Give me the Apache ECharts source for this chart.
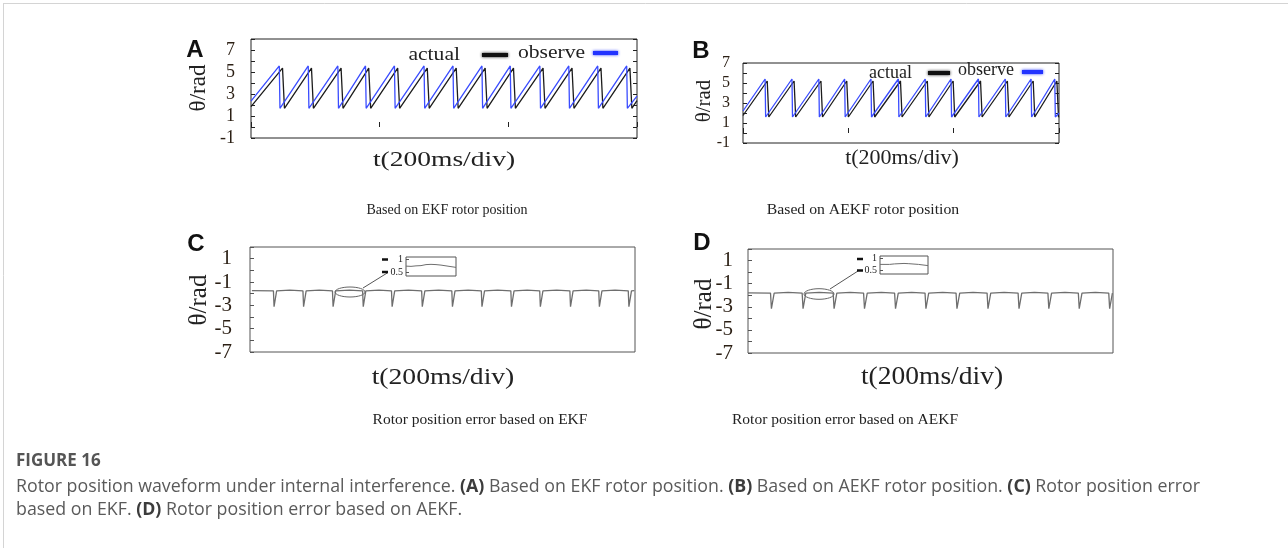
<!DOCTYPE html>
<html>
<head>
<meta charset="utf-8">
<script src="https://cdn.jsdelivr.net/npm/echarts@6/dist/echarts.min.js"></script>
<style>
html, body { margin: 0; padding: 0; background: #fff; }
#chart { width: 1288px; height: 548px; }
</style>
</head>
<body>
<div id="chart"></div>
<script>
// 数据：拐点 [t(ms), θ(rad)]
// (A) EKF 转子位置
const aActual = [[0,1.85],[49,5.35],[52,1.7],[94,5.35],[97,1.7],[140,5.35],[143,1.7],[183,5.35],[186,1.7],
  [228,5.35],[231,1.7],[274,5.35],[277,1.7],[319,5.35],[322,1.7],[364,5.35],[367,1.7],[408,5.35],[411,1.7],
  [454,5.35],[457,1.7],[499,5.35],[502,1.7],[544,5.35],[547,1.7],[589,5.35],[592,1.7],[600,2.4]];
const aObserve = [[0,2.35],[44,5.55],[45,1.7],[48,1.7],[89,5.55],[90,1.7],[93,1.7],[135,5.55],[136,1.7],[139,1.7],
  [178,5.55],[179,1.7],[182,1.7],[223,5.55],[224,1.7],[227,1.7],[269,5.55],[270,1.7],[273,1.7],
  [314,5.55],[315,1.7],[318,1.7],[359,5.55],[360,1.7],[363,1.7],[403,5.55],[404,1.7],[407,1.7],
  [449,5.55],[450,1.7],[453,1.7],[494,5.55],[495,1.7],[498,1.7],[539,5.55],[540,1.7],[543,1.7],
  [584,5.55],[585,1.7],[588,1.7],[600,2.8]];
// (B) AEKF 转子位置
const bActual = [[0,1.75],[46,5.2],[49,1.6],[97,5.2],[100,1.6],[148,5.2],[151,1.6],[197,5.2],[200,1.6],
  [247,5.2],[250,1.6],[299,5.2],[302,1.6],[350,5.2],[353,1.6],[399,5.2],[402,1.6],[451,5.2],[454,1.6],
  [502,5.2],[505,1.6],[551,5.2],[554,1.6],[596,5.2],[599,1.6],[600,1.65]];
const bObserve = [[0,2.2],[42,5.4],[43,1.6],[46,1.6],[93,5.4],[94,1.6],[97,1.6],[144,5.4],[145,1.6],[148,1.6],
  [193,5.4],[194,1.6],[197,1.6],[243,5.4],[244,1.6],[247,1.6],[295,5.4],[296,1.6],[299,1.6],
  [346,5.4],[347,1.6],[350,1.6],[395,5.4],[396,1.6],[399,1.6],[447,5.4],[448,1.6],[451,1.6],
  [498,5.4],[499,1.6],[502,1.6],[547,5.4],[548,1.6],[551,1.6],[592,5.4],[593,1.6],[596,1.6],[600,2.0]];
// (C) EKF 位置误差
const cError = [[3,-1.74],
  [36.5,-1.76],[37.5,-3.12],[40.5,-3.12],[41.5,-1.76],[62,-1.7],
  [82.5,-1.76],[83.5,-3.12],[86.5,-3.12],[87.5,-1.76],[108,-1.7],
  [128.5,-1.76],[129.5,-3.12],[132.5,-3.12],[133.5,-1.76],[155,-1.7],
  [175.5,-1.76],[176.5,-3.12],[179.5,-3.12],[180.5,-1.76],[201,-1.7],
  [220.5,-1.76],[221.5,-3.12],[224.5,-3.12],[225.5,-1.76],[247,-1.7],
  [267.5,-1.76],[268.5,-3.12],[271.5,-3.12],[272.5,-1.76],[294,-1.7],
  [314.5,-1.76],[315.5,-3.12],[318.5,-3.12],[319.5,-1.76],[340,-1.7],
  [360.5,-1.76],[361.5,-3.12],[364.5,-3.12],[365.5,-1.76],[386,-1.7],
  [406.5,-1.76],[407.5,-3.12],[410.5,-3.12],[411.5,-1.76],[432,-1.7],
  [451.5,-1.76],[452.5,-3.12],[455.5,-3.12],[456.5,-1.76],[478,-1.7],
  [498.5,-1.76],[499.5,-3.12],[502.5,-3.12],[503.5,-1.76],[524,-1.7],
  [543.5,-1.76],[544.5,-3.12],[547.5,-3.12],[548.5,-1.76],[569,-1.7],
  [589.5,-1.76],[590.5,-3.12],[593.5,-3.12],[594.5,-1.76],[599,-1.74]];
// (D) AEKF 位置误差
const dError = [[0,-1.8],
  [37,-1.82],[38.5,-3.17],[41.5,-3.17],[43,-1.82],[66,-1.76],
  [89,-1.82],[90.5,-3.17],[93.5,-3.17],[95,-1.82],[117,-1.76],
  [140,-1.82],[141.5,-3.17],[144.5,-3.17],[146,-1.82],[168,-1.76],
  [190,-1.82],[191.5,-3.17],[194.5,-3.17],[196,-1.82],[219,-1.76],
  [241,-1.82],[242.5,-3.17],[245.5,-3.17],[247,-1.82],[269,-1.76],
  [291,-1.82],[292.5,-3.17],[295.5,-3.17],[297,-1.82],[320,-1.76],
  [342,-1.82],[343.5,-3.17],[346.5,-3.17],[348,-1.82],[370,-1.76],
  [393,-1.82],[394.5,-3.17],[397.5,-3.17],[399,-1.82],[421,-1.76],
  [444,-1.82],[445.5,-3.17],[448.5,-3.17],[450,-1.82],[471,-1.76],
  [493,-1.82],[494.5,-3.17],[497.5,-3.17],[499,-1.82],[521,-1.76],
  [543,-1.82],[544.5,-3.17],[547.5,-3.17],[549,-1.82],[571,-1.76],
  [593,-1.82],[594.5,-3.17],[597.5,-3.17],[599,-1.82],[600,-1.8]];
// 局部放大小图
const cZoom = [[0,0.74],[1,0.73],[2,0.75],[3,0.76],[4,0.8],[5,0.81],[6,0.8],[7,0.78],[8,0.75],[9,0.72],[10,0.69]];
const dZoom = [[0,0.75],[2,0.75],[3,0.77],[5,0.79],[6,0.78],[8,0.75],[10,0.7]];
const zoomTicks = [0.5, 1];

const serif = "'Liberation Serif', 'Times New Roman', serif";
const sans = "'Liberation Sans', Arial, sans-serif";
const openSans = "'Open Sans', 'Noto Sans', sans-serif";
const labelColor = '#2b1f14';

function oddLabel(v) {
  return Math.abs(v % 2) === 1 ? String(v) : '';
}

function mainY(grid, min, max, size, margin, color, right) {
  return {
    gridIndex: grid, type: 'value', min: min, max: max, interval: 1,
    position: right ? 'right' : 'left',
    axisLine: { show: false },
    axisTick: { show: true, inside: true, length: 4, lineStyle: { color: color } },
    axisLabel: right ? { show: false } : {
      formatter: oddLabel, fontFamily: serif, fontSize: size, color: labelColor, margin: margin
    },
    splitLine: { show: false }
  };
}

function mainX(grid, ticks) {
  return {
    gridIndex: grid, type: 'value', min: 0, max: 600, interval: 200,
    axisLine: { show: false },
    axisTick: { show: ticks, inside: true, length: 5, lineStyle: { color: '#222' } },
    axisLabel: { show: false },
    splitLine: { show: false }
  };
}

function zoomY(grid) {
  return {
    gridIndex: grid, type: 'value', min: 0.35, max: 1.1,
    axisLine: { show: false },
    axisTick: { inside: true, length: 3, customValues: zoomTicks, lineStyle: { color: '#555' } },
    axisLabel: { customValues: zoomTicks, fontFamily: serif, fontSize: 10, color: '#222', margin: 3 },
    splitLine: { show: false }
  };
}

function line(xi, yi, data, color, w) {
  return {
    type: 'line', xAxisIndex: xi, yAxisIndex: yi, data: data,
    symbol: 'none', showSymbol: false, silent: true,
    lineStyle: { color: color, width: w }, itemStyle: { color: color }
  };
}

function text(x, y, str, font, opts) {
  opts = opts || {};
  return {
    type: 'text', x: x, y: y, rotation: opts.rotation || 0, scaleX: opts.scaleX || 1,
    silent: true,
    style: {
      text: str, font: font, fill: opts.fill || '#222',
      align: opts.align || 'center', verticalAlign: 'middle', rich: opts.rich
    }
  };
}

function seg(x1, y1, x2, y2, color, w, blur) {
  return {
    type: 'line', silent: true,
    shape: { x1: x1, y1: y1, x2: x2, y2: y2 },
    style: { stroke: color, lineWidth: w, shadowBlur: blur || 0, shadowColor: color }
  };
}

function ellipse(cx, cy, rx, ry) {
  return {
    type: 'ellipse', silent: true,
    shape: { cx: cx, cy: cy, rx: rx, ry: ry },
    style: { fill: 'none', stroke: '#666', lineWidth: 1 }
  };
}

const richBold = { b: { fontFamily: openSans, fontSize: 17.8, fontWeight: 'bold', fill: '#3c3c3c' } };

const chart = echarts.init(document.getElementById('chart'));
chart.setOption({
  animation: false,
  backgroundColor: '#fff',
  grid: [
    { left: 251, top: 39, width: 386, height: 99, show: true, borderColor: '#222', borderWidth: 1 },
    { left: 743, top: 63, width: 316, height: 80, show: true, borderColor: '#222', borderWidth: 1 },
    { left: 250, top: 247, width: 385, height: 105, show: true, borderColor: '#555', borderWidth: 1 },
    { left: 748, top: 249, width: 365, height: 104, show: true, borderColor: '#555', borderWidth: 1 },
    { left: 406, top: 257, width: 50, height: 19, show: true, borderColor: '#555', borderWidth: 1 },
    { left: 880, top: 256, width: 48, height: 18, show: true, borderColor: '#555', borderWidth: 1 }
  ],
  xAxis: [
    mainX(0, true), mainX(1, true), mainX(2, false), mainX(3, false),
    { gridIndex: 4, type: 'value', min: 0, max: 10, show: false },
    { gridIndex: 5, type: 'value', min: 0, max: 10, show: false }
  ],
  yAxis: [
    mainY(0, -1, 8, 18, 16, '#222', false),
    mainY(0, -1, 8, 18, 16, '#222', true),
    mainY(1, -1, 7, 16, 13, '#222', false),
    mainY(1, -1, 7, 16, 13, '#222', true),
    mainY(2, -7, 2, 21, 18, '#555', false),
    mainY(3, -7, 2, 21, 15, '#555', false),
    zoomY(4),
    zoomY(5)
  ],
  series: [
    line(0, 0, aActual, '#1c1c1c', 1.3),
    line(0, 0, aObserve, '#3a4cff', 1.3),
    line(1, 2, bActual, '#1c1c1c', 1.3),
    line(1, 2, bObserve, '#3a4cff', 1.3),
    line(2, 4, cError, '#6e6e6e', 1.3),
    line(3, 5, dError, '#6e6e6e', 1.3),
    line(4, 6, cZoom, '#6e6e6e', 1),
    line(5, 7, dZoom, '#6e6e6e', 1)
  ],
  graphic: [
    // 页面边框
    seg(3, 3.5, 1288, 3.5, '#d4d4d4', 1),
    seg(3.5, 3, 3.5, 548, '#d4d4d4', 1),
    // 子图字母
    text(195, 50, 'A', 'bold 24px ' + sans, { fill: '#111' }),
    text(701, 51, 'B', 'bold 24px ' + sans, { fill: '#111' }),
    text(196, 244, 'C', 'bold 24px ' + sans, { fill: '#111' }),
    text(702, 243, 'D', 'bold 24px ' + sans, { fill: '#111' }),
    // 纵轴名
    text(199, 88, 'θ/rad', '23px ' + serif, { rotation: Math.PI / 2 }),
    text(704, 101, 'θ/rad', '21px ' + serif, { rotation: Math.PI / 2 }),
    text(199, 300, 'θ/rad', '25px ' + serif, { rotation: Math.PI / 2 }),
    text(704, 304, 'θ/rad', '25px ' + serif, { rotation: Math.PI / 2 }),
    // 横轴名
    text(444, 160, 't(200ms/div)', '22px ' + serif, { scaleX: 1.25 }),
    text(902, 158, 't(200ms/div)', '22px ' + serif),
    text(443, 378, 't(200ms/div)', '24px ' + serif, { scaleX: 1.15 }),
    text(932, 377, 't(200ms/div)', '25px ' + serif, { scaleX: 1.1 }),
    // 图例
    text(460, 55, 'actual', '18px ' + serif, { align: 'right', scaleX: 1.2 }),
    seg(482, 55, 508, 55, '#111', 4, 3),
    text(518, 53, 'observe', '18px ' + serif, { align: 'left', scaleX: 1.2 }),
    seg(593, 53, 618, 53, '#2233ff', 4, 3),
    text(912, 73, 'actual', '18px ' + serif, { align: 'right' }),
    seg(928, 73, 950, 73, '#111', 4, 3),
    text(958, 70, 'observe', '18px ' + serif, { align: 'left' }),
    seg(1022, 72, 1043, 72, '#2233ff', 4, 3),
    // 局部放大标注
    ellipse(350, 292, 15, 5),
    seg(363, 288, 388, 272.5, '#555', 1),
    seg(382, 259.5, 388, 259.5, '#111', 2.5),
    seg(382, 272, 388, 272, '#111', 2.5),
    ellipse(819, 294, 15, 5.3),
    seg(830, 289, 858, 271, '#555', 1),
    seg(857, 259, 863, 259, '#111', 2.5),
    seg(857, 270.5, 863, 270.5, '#111', 2.5),
    // 子图说明
    text(447, 210, 'Based on EKF rotor position', '14px ' + serif),
    text(863, 210, 'Based on AEKF rotor position', '15px ' + serif, { scaleX: 1.05 }),
    text(480, 420, 'Rotor position error based on EKF', '15.5px ' + serif),
    text(845, 420, 'Rotor position error based on AEKF', '15.5px ' + serif),
    // 图注
    text(16, 461, 'FIGURE 16', 'bold 17px ' + openSans, { align: 'left', fill: '#555' }),
    text(16, 487, 'Rotor position waveform under internal interference. {b|(A)} Based on EKF rotor position. {b|(B)} Based on AEKF rotor position. {b|(C)} Rotor position error',
      '17.8px ' + openSans, { align: 'left', fill: '#5a5a5a', rich: richBold }),
    text(16, 510, 'based on EKF. {b|(D)} Rotor position error based on AEKF.',
      '17.8px ' + openSans, { align: 'left', fill: '#5a5a5a', rich: richBold })
  ]
});
</script>
</body>
</html>
